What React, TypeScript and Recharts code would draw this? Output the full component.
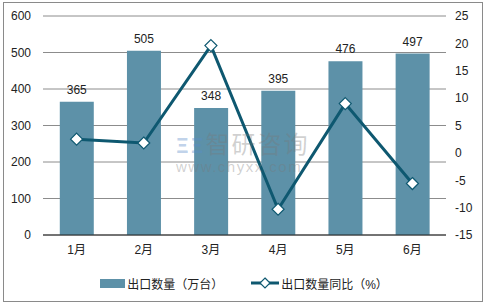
import { ComposedChart, Bar, Line, XAxis, YAxis, CartesianGrid, LabelList, Legend } from "recharts";

const months = ["1月", "2月", "3月", "4月", "5月", "6月"];
const exportQty = [365, 505, 348, 395, 476, 497];
const yoyPct = [2.5, 1.8, 19.6, -10.3, 9.0, -5.6];
const leftTicks = [0, 100, 200, 300, 400, 500, 600];
const rightTicks = [-15, -10, -5, 0, 5, 10, 15, 20, 25];

const data = months.map((m, i) => ({ month: m, qty: exportQty[i], yoy: yoyPct[i] }));

const BAR = "#5D91A8";
const LINE = "#0E5870";
const FONT = "'Liberation Sans', Arial, 'Noto Sans CJK SC', sans-serif";

const Diamond = (props: any) => {
  const { cx, cy } = props;
  if (cx == null || cy == null) return null;
  const r = 6;
  return (
    <path
      d={`M${cx},${cy - r}L${cx + r},${cy}L${cx},${cy + r}L${cx - r},${cy}Z`}
      fill="#fff"
      stroke={LINE}
      strokeWidth={1.2}
    />
  );
};

const LegendBox = () => (
  <div
    style={{
      height: 36,
      display: "flex",
      alignItems: "center",
      justifyContent: "center",
      fontSize: 12,
      color: "#222",
      fontFamily: FONT,
    }}
  >
    <span style={{ display: "inline-block", width: 25, height: 9, background: BAR, marginRight: 2 }} />
    <span style={{ marginRight: 28 }}>出口数量（万台）</span>
    <svg width={28} height={12} style={{ marginRight: 2 }}>
      <line x1={0} y1={6} x2={28} y2={6} stroke={LINE} strokeWidth={3} />
      <path d="M14,1L19,6L14,11L9,6Z" fill="#fff" stroke={LINE} strokeWidth={1.2} />
    </svg>
    <span>出口数量同比（%）</span>
  </div>
);

export default function App() {
  return (
    <div style={{ position: "fixed", left: 0, top: 0, width: 488, height: 306, background: "#fff", fontFamily: FONT }}>
      <div
        style={{
          position: "absolute",
          left: 3,
          top: 2,
          width: 480,
          height: 300,
          border: "1px solid #8a8a8a",
          boxSizing: "border-box",
        }}
      />
      <ComposedChart
        width={488}
        height={306}
        data={data}
        margin={{ top: 16, right: 0, left: 0, bottom: 5 }}
        barCategoryGap="25%"
      >
        <CartesianGrid vertical={false} stroke="#8c8c8c" yAxisId="left" />
        <XAxis
          dataKey="month"
          tickLine={false}
          axisLine={{ stroke: "#222" }}
          tick={{ fill: "#222", fontSize: 12 }}
          tickSize={6}
          tickMargin={4}
          height={30}
        />
        <YAxis
          yAxisId="left"
          domain={[0, 600]}
          ticks={leftTicks}
          width={43}
          axisLine={false}
          tickLine={false}
          tickMargin={6}
          tick={{ fill: "#222", fontSize: 12 }}
        />
        <YAxis
          yAxisId="right"
          orientation="right"
          domain={[-15, 25]}
          ticks={rightTicks}
          width={42}
          axisLine={false}
          tickLine={false}
          tickMargin={3}
          tick={{ fill: "#222", fontSize: 12, textAnchor: "start" }}
        />
        <Legend verticalAlign="bottom" content={<LegendBox />} />
        <Bar yAxisId="left" dataKey="qty" name="出口数量（万台）" fill={BAR} isAnimationActive={false}>
          <LabelList dataKey="qty" position="top" offset={8} fill="#222" fontSize={12} />
        </Bar>
        <Line
          yAxisId="right"
          dataKey="yoy"
          name="出口数量同比（%）"
          type="linear"
          stroke={LINE}
          strokeWidth={3}
          dot={<Diamond />}
          activeDot={false}
          isAnimationActive={false}
        />
      </ComposedChart>
      <div
        style={{
          position: "absolute",
          left: 176,
          top: 131,
          height: 24,
          lineHeight: "24px",
          fontSize: 24,
          color: "rgba(120,120,120,0.35)",
          letterSpacing: 2,
          pointerEvents: "none",
          fontFamily: "'Noto Sans CJK SC', sans-serif",
          whiteSpace: "nowrap",
        }}
      >
        <span style={{ color: "rgba(90,140,200,0.4)", fontWeight: 700, fontSize: 20 }}>ΞΞ</span>智研咨询
      </div>
      <div
        style={{
          position: "absolute",
          left: 176,
          top: 160,
          height: 14,
          lineHeight: "14px",
          fontSize: 15,
          color: "rgba(120,120,120,0.35)",
          letterSpacing: 1.5,
          pointerEvents: "none",
          whiteSpace: "nowrap",
        }}
      >
        www.chyxx.com
      </div>
    </div>
  );
}
